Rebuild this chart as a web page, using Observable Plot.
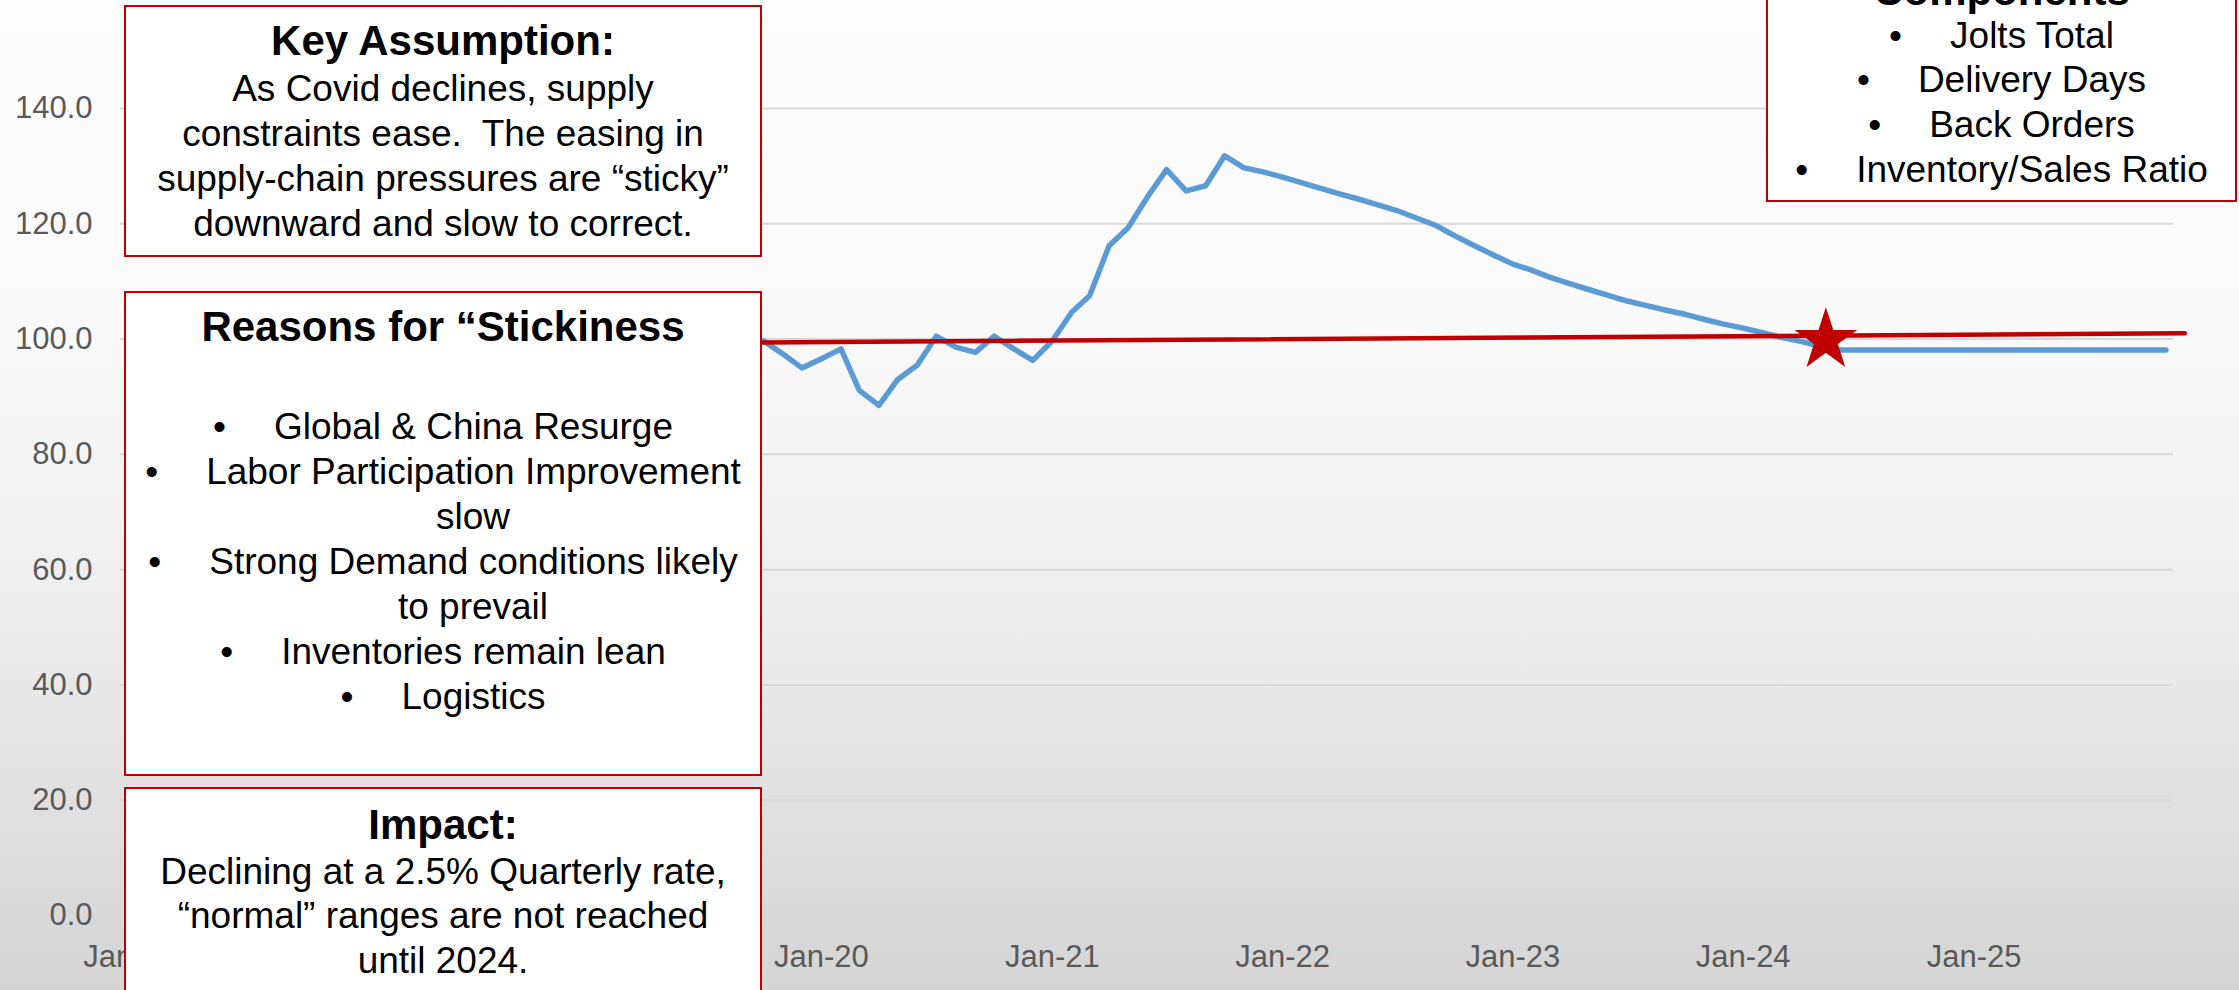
<!DOCTYPE html>
<html>
<head>
<meta charset="utf-8">
<script src="https://cdn.jsdelivr.net/npm/d3@7"></script>
<script src="https://cdn.jsdelivr.net/npm/@observablehq/plot@0.6"></script>
<style>
html, body { margin: 0; padding: 0; }
#wrap {
  position: relative; width: 2239px; height: 990px; overflow: hidden;
  background: linear-gradient(to bottom, #fdfdfd 0%, #fafafa 30%, #f3f3f3 50%, #e8e8e8 70%, #dcdcdc 87%, #d5d5d5 100%);
  font-family: "Liberation Sans", Arial, sans-serif;
}
#chart { position: absolute; left: 0; top: 0; }
.box { position: absolute; background: #fff; border: 2px solid #c00000; box-sizing: border-box; }
.ln { position: absolute; white-space: pre; text-align: center; line-height: 1; color: #000; }
.bul { display: inline-block; width: 61px; text-align: left; }
</style>
</head>
<body>
<div id="wrap"><div id="chart"></div></div>
<script>
// ---------------- data ----------------
const startMonth = "2017-01-01";
// monthly supply-chain pressure index, Jan-17 .. Nov-25
const supplyIndex = [
  101.5, 102.0, 101.2, 100.8, 101.6, 102.3, 101.9, 101.0, 102.4, 103.1, 102.6, 101.8,
  102.5, 103.4, 104.0, 103.2, 104.1, 104.8, 104.2, 103.5, 103.0, 102.2, 101.6, 101.0,
  100.6, 101.2, 100.3, 99.8, 100.5, 99.6, 99.0, 99.4, 98.9, 99.7, 97.4, 95.0,
  96.6, 98.3, 91.1, 88.5, 93.0, 95.5, 100.5, 98.6, 97.7, 100.5, 98.3, 96.3,
  99.7, 104.7, 107.5, 116.2, 119.3, 124.7, 129.4, 125.7, 126.6, 131.8, 129.7, 129.0,
  128.1, 127.1, 126.2, 125.2, 124.3, 123.3, 122.3, 121.0, 119.7, 117.9, 116.2, 114.6,
  113.0, 111.9, 110.7, 109.6, 108.6, 107.6, 106.6, 105.8, 105.0, 104.3, 103.4, 102.6,
  101.9, 101.1, 100.3, 99.6, 98.8, 98.1, 98.1, 98.1, 98.1, 98.1, 98.1, 98.1,
  98.1, 98.1, 98.1, 98.1, 98.1, 98.1, 98.1, 98.1, 98.1, 98.1, 98.1
];
const trendDates = ["2017-01-01", "2025-12-01"];
const trendValues = [98.7, 101.0];
const starDates = ["2024-05-11"];
const starValues = [99.8];
const yTicks = [0, 20, 40, 60, 80, 100, 120, 140];
const xTickDates = ["2017-01-01", "2018-01-01", "2019-01-01", "2020-01-01", "2021-01-01",
                    "2022-01-01", "2023-01-01", "2024-01-01", "2025-01-01"];

const keyTitle = "Key Assumption:";
const keyLines = ["As Covid declines, supply", "constraints ease.  The easing in",
                  "supply-chain pressures are \u201csticky\u201d", "downward and slow to correct."];
const reasonsTitle = "Reasons for \u201cStickiness";
const reasonsItems = [["Global & China Resurge"], ["Labor Participation Improvement", "slow"],
                      ["Strong Demand conditions likely", "to prevail"], ["Inventories remain lean"], ["Logistics"]];
const impactTitle = "Impact:";
const impactLines = ["Declining at a 2.5% Quarterly rate,", "\u201cnormal\u201d ranges are not reached", "until 2024."];
const compTitle = "Components";
const compItems = ["Jolts Total", "Delivery Days", "Back Orders", "Inventory/Sales Ratio"];

// ---------------- chart ----------------
const start = new Date(startMonth);
const series = supplyIndex.map((v, i) => ({date: d3.utcMonth.offset(start, i), value: v}));
const trend = trendDates.map((d, i) => ({date: new Date(d), value: trendValues[i]}));
const star = starDates.map((d, i) => ({date: new Date(d), value: starValues[i]}));

const chart = Plot.plot({
  width: 2239, height: 990,
  marginLeft: 120, marginRight: 66, marginTop: 108, marginBottom: 75,
  style: {background: "transparent", fontFamily: "'Liberation Sans', Arial, sans-serif", fontSize: "31px", color: "#595959", overflow: "visible"},
  x: {type: "utc", domain: [new Date("2016-12-16"), new Date("2025-11-13")]},
  y: {domain: [0, 140]},
  marks: [
    Plot.ruleY(yTicks, {stroke: "#d9d9d9", strokeWidth: 2}),
    Plot.axisY({ticks: yTicks, tickFormat: d3.format(".1f"), tickSize: 0, tickPadding: 28, fontSize: 31, label: null}),
    Plot.axisX({ticks: xTickDates.map(d => new Date(d)), tickFormat: d3.utcFormat("%b-%y"), tickSize: 0, tickPadding: 29, fontSize: 31, label: null}),
    Plot.line(series, {x: "date", y: "value", stroke: "#5b9bd5", strokeWidth: 5.5, strokeLinejoin: "round", strokeLinecap: "round"}),
    Plot.line(trend, {x: "date", y: "value", stroke: "#c00000", strokeWidth: 4.5}),
    Plot.dot(star, {x: "date", y: "value", symbol: "star", r: 19.7, fill: "#c00000", stroke: "none"})
  ]
});
document.getElementById("chart").appendChild(chart);

// ---------------- annotation boxes ----------------
const wrap = document.getElementById("wrap");
function addBox(l, t, w, h) {
  const d = document.createElement("div");
  d.className = "box";
  Object.assign(d.style, {left: l + "px", top: t + "px", width: w + "px", height: h + "px"});
  wrap.appendChild(d);
}
function addLine(l, w, baseline, size, text, opts = {}) {
  const d = document.createElement("div");
  d.className = "ln";
  Object.assign(d.style, {
    left: l + "px", width: w + "px", fontSize: size + "px",
    top: (baseline - 0.8465 * size) + "px",
    fontWeight: opts.bold ? "bold" : "normal",
    paddingLeft: (opts.indent || 0) + "px", boxSizing: "border-box"
  });
  if (opts.bullet) {
    const s = document.createElement("span");
    s.className = "bul";
    s.textContent = "\u2022";
    d.appendChild(s);
  }
  d.appendChild(document.createTextNode(text));
  wrap.appendChild(d);
}

// Box 1: Key Assumption
addBox(124, 5, 638, 252);
addLine(124, 638, 56, 42, keyTitle, {bold: true});
keyLines.forEach((t, i) => addLine(124, 638, 101 + 45 * i, 37, t));

// Box 2: Reasons
addBox(124, 291, 638, 485);
addLine(124, 638, 342, 42, reasonsTitle, {bold: true});
{
  let b = 439;
  reasonsItems.forEach(item => {
    item.forEach((t, j) => {
      if (j === 0) addLine(124, 638, b, 37, t, {bullet: true});
      else addLine(124, 638, b, 37, t, {indent: 60});
      b += 45;
    });
  });
}

// Box 3: Impact
addBox(124, 787, 638, 240);
addLine(124, 638, 840, 42, impactTitle, {bold: true});
impactLines.forEach((t, i) => addLine(124, 638, 884 + 44.5 * i, 37, t));

// Box 4: Components
addBox(1766, -40, 471, 242);
addLine(1766, 471, 6, 42, compTitle, {bold: true});
compItems.forEach((t, i) => addLine(1766, 471, 48 + 44.7 * i, 37, t, {bullet: true}));
</script>
</body>
</html>
